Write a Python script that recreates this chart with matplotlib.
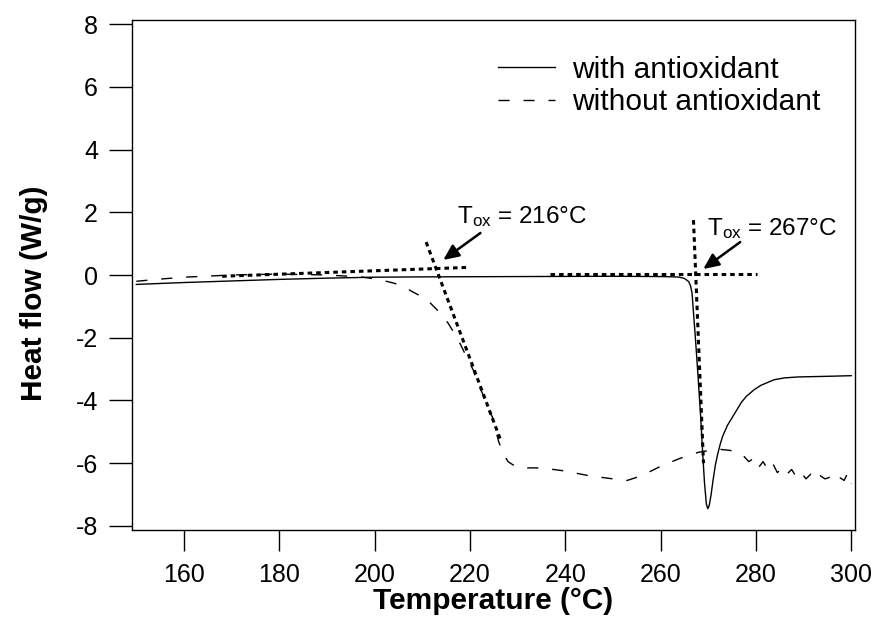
import numpy as np
import matplotlib.pyplot as plt

plt.rcParams['font.family'] = ['Liberation Sans', 'DejaVu Sans']
plt.rcParams['mathtext.fontset'] = 'custom'
plt.rcParams['mathtext.rm'] = 'Liberation Sans'
plt.rcParams['mathtext.it'] = 'Liberation Sans:italic'
plt.rcParams['axes.unicode_minus'] = False

# DSC curve with antioxidant (temperature in C, heat flow in W/g)
temp_with = [150, 160, 170, 180, 190, 200, 210, 230, 250, 260, 263, 264, 265,
             265.9, 266.3, 266.6, 266.9, 267.3, 267.8, 268.4, 268.8, 269.2,
             269.6, 269.9, 270.2, 270.6, 271, 271.5, 272, 272.5, 273, 274, 275,
             276, 277, 278, 279.6, 281, 283.8, 286, 288.9, 295, 300]
flow_with = [-0.30, -0.24, -0.19, -0.14, -0.10, -0.07, -0.06, -0.05, -0.04,
             -0.05, -0.06, -0.07, -0.11, -0.21, -0.35, -0.58, -1.2, -2.0, -3.1,
             -4.5, -5.6, -6.6, -7.3, -7.45, -7.35, -7.0, -6.55, -6.05, -5.7,
             -5.4, -5.15, -4.8, -4.55, -4.3, -4.05, -3.87, -3.66, -3.52, -3.34,
             -3.28, -3.25, -3.23, -3.21]

# DSC curve without antioxidant
temp_without = [150, 155, 160, 170, 180, 190, 197, 200, 203, 205.5, 208, 210.8,
                213.1, 215.4, 217.5, 219.6, 220.7, 221.5, 222.6, 223.4, 224.7,
                226, 227, 228, 229.5, 231, 235, 240, 245, 250, 253, 256, 260,
                264, 268, 272, 275, 277, 278.5, 279.5, 280.5, 281.5, 282.5,
                283.5, 284.5, 285.5, 286.5, 287.5, 288.5, 289.5, 290.5, 291.5,
                292.5, 293.5, 294.5, 295.5, 296.5, 297.5, 298.5, 299.3, 300]
flow_without = [-0.20, -0.13, -0.07, 0.0, 0.03, 0.0, -0.06, -0.12, -0.22, -0.32,
                -0.54, -0.76, -1.11, -1.53, -2.05, -2.71, -3.03, -3.44, -3.76,
                -4.2, -4.52, -5.3, -5.7, -5.95, -6.1, -6.15, -6.15, -6.25, -6.4,
                -6.5, -6.55, -6.4, -6.1, -5.85, -5.65, -5.55, -5.6, -5.7, -5.95,
                -5.85, -6.15, -5.95, -6.2, -6.0, -6.3, -6.15, -6.35, -6.2, -6.45,
                -6.3, -6.5, -6.35, -6.55, -6.4, -6.5, -6.45, -6.6, -6.45, -6.55,
                -6.3, -6.65]

# tangent lines used to read the onset (oxidation) temperatures
tan_base_without = ([168, 219.2], [-0.04, 0.24])
tan_drop_without = ([210.8, 226.4], [1.05, -5.25])
tan_base_with = ([236.8, 280.3], [0.03, 0.03])
tan_drop_with = ([266.9, 269.0], [1.75, -6.0])

onset_labels = ['216', '267']
onset_text_pos = [(217.3, 1.66), (269.8, 1.28)]
arrow_tails = [(222.2, 1.34), (276.7, 1.05)]
arrow_heads = [(214.4, 0.48), (268.95, 0.19)]

fig = plt.figure(figsize=(8.75, 6.27), dpi=100)
ax = fig.add_axes([0.1509, 0.1547, 0.8263, 0.8134])

ax.plot(temp_with, flow_with, color='black', lw=1.0, label='with antioxidant')
ax.plot(temp_without, flow_without, color='black', lw=1.0,
        linestyle=(0, (8, 10)), label='without antioxidant')

dot_style = dict(color='black', lw=2.2, linestyle=(0, (1.5, 1.3)))
for xs, ys in (tan_base_without, tan_drop_without, tan_base_with, tan_drop_with):
    ax.plot(xs, ys, **dot_style)

for label, pos, tail, head in zip(onset_labels, onset_text_pos, arrow_tails, arrow_heads):
    ax.text(pos[0], pos[1], r'T$_{\rm ox}$ = ' + label + '°C', fontsize=17.5,
            ha='left', va='baseline')
    ax.annotate('', xy=head, xytext=tail,
                arrowprops=dict(arrowstyle='-|>,head_length=0.55,head_width=0.25',
                                color='black', lw=1.8, shrinkA=0, shrinkB=0,
                                mutation_scale=17))

ax.set_xlim(149.1, 300.8)
ax.set_ylim(-8.13, 8.13)
ax.set_xticks(np.arange(160, 301, 20))
ax.set_yticks(np.arange(-8, 9, 2))

for sp in ax.spines.values():
    sp.set_linewidth(1.0)
ax.tick_params(axis='both', direction='out', width=1.0, labelsize=18)
ax.tick_params(axis='y', length=16.5, pad=8)
ax.tick_params(axis='x', length=15, pad=9)

ax.set_xlabel('Temperature (°C)', fontsize=21.5, fontweight='bold', labelpad=0)
ax.set_ylabel('Heat flow (W/g)', fontsize=21.5, fontweight='bold')
ax.yaxis.set_label_coords(-0.116, 0.465)

ax.legend(loc='upper left', bbox_to_anchor=(0.506, 0.930), frameon=False,
          fontsize=21.5, handlelength=1.9, handletextpad=0.6,
          labelspacing=0.15, borderpad=0, borderaxespad=0)

fig.savefig('out.png', dpi=100)
